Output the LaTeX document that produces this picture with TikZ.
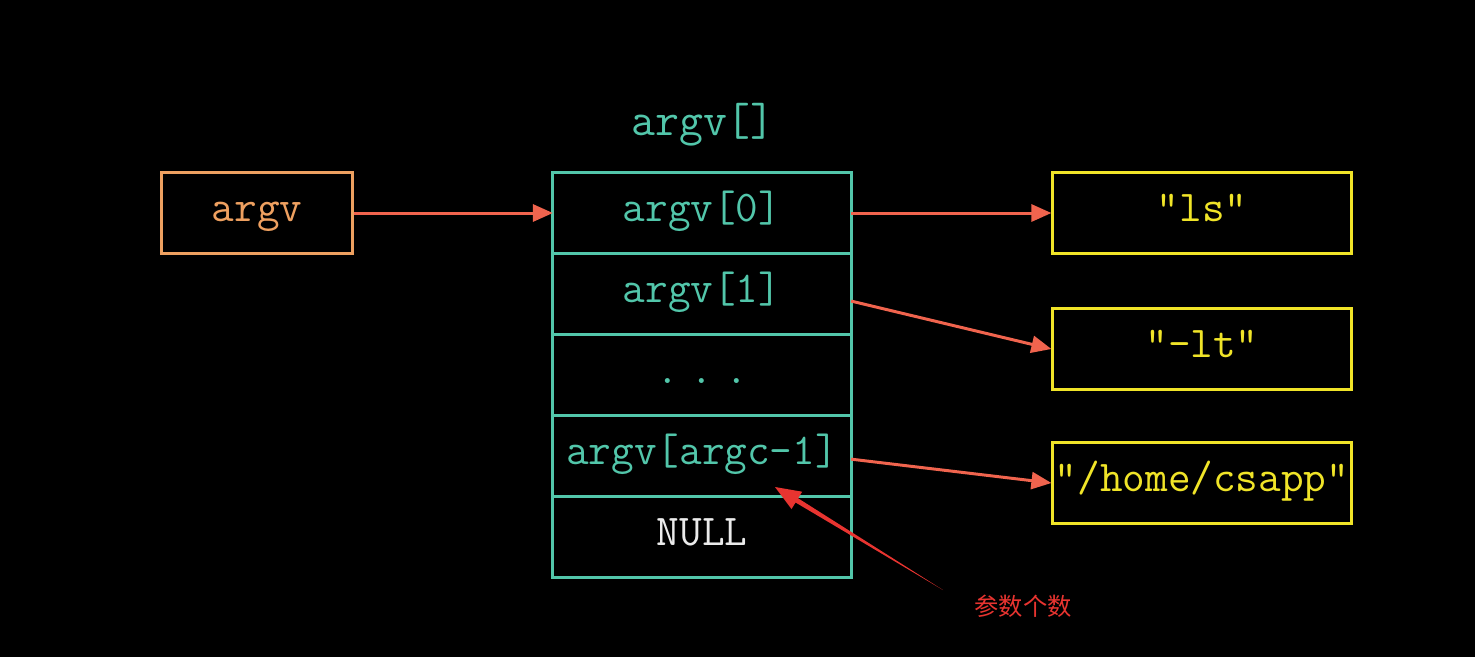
\documentclass[tikz,border=0pt]{standalone}
\usepackage{fontspec}
\newfontfamily\cjk{Noto Sans CJK SC}
\usetikzlibrary{positioning,arrows.meta,calc}
\definecolor{tealbox}{RGB}{82,198,170}
\definecolor{ptrorange}{RGB}{238,160,96}
\definecolor{linkred}{RGB}{240,100,78}
\definecolor{stryellow}{RGB}{240,228,40}
\definecolor{noteRed}{RGB}{232,52,48}
\tikzset{
  boxbase/.style={line width=0.85pt, minimum height=0.81cm, inner sep=0pt,
    text height=0.7em, text depth=0.24em},
  cell/.style={boxbase, draw=tealbox, minimum width=2.98cm, outer sep=0pt, text=tealbox},
  ptrbox/.style={boxbase, draw=ptrorange, minimum width=1.9cm, text=ptrorange},
  strbox/.style={boxbase, draw=stryellow, minimum width=2.98cm, text=stryellow},
  link/.style={->, linkred, line width=0.85pt},
}
\begin{document}
\begin{tikzpicture}[x=0.01cm, y=-0.01cm, >={Triangle[length=0.2cm,width=0.17cm]},
    font=\ttfamily\fontsize{12.5}{15}\selectfont]
  \fill[black] (0,0) rectangle (1475,657);
  % pointer and array
  \node[ptrbox] (argv) at (257,213) {argv};
  \node[cell] (c0) at (702,213) {argv[0]};
  \node[cell, below=0pt of c0] (c1) {argv[1]};
  \node[cell, below=0pt of c1] (c2) {.\hspace{3.4pt}.\hspace{3.4pt}.};
  \node[cell, below=0pt of c2] (c3) {argv[argc-1]};
  \node[cell, below=0pt of c3, text=white!92!black] (c4) {NULL};
  \node[text=tealbox, font=\ttfamily\fontsize{13.2}{16}\selectfont] (title) at (703,125) {argv[]};
  % strings
  \node[strbox] (s0) at (1202,213) {"ls"};
  \node[strbox] (s1) at (1202,349) {"-lt"};
  \node[strbox] (s2) at (1202,483) {"/home/csapp"};
  \draw[link] (argv) -- (c0);
  \draw[link] (c0) -- (s0);
  \draw[link] ($(c1.east)+(0,7)$) -- (s1.west);
  \draw[link] ($(c3.east)+(0,3)$) -- (s2.west);
  % annotation
  \coordinate (tip) at (775,487);
  \coordinate (tail) at (943,590);
  \coordinate (base) at ($(tip)!0.13!(tail)$);
  \node[text=noteRed, font=\cjk\fontsize{6.9}{8}\selectfont] (note) at (1023,606) {参数个数};
  \fill[noteRed] (tail) -- ($(base)!0.7pt!90:(tip)$) -- ($(base)!2.9pt!90:(tip)$) -- (tip)
    -- ($(base)!2.9pt!-90:(tip)$) -- ($(base)!0.7pt!-90:(tip)$) -- cycle;
\end{tikzpicture}
\end{document}
